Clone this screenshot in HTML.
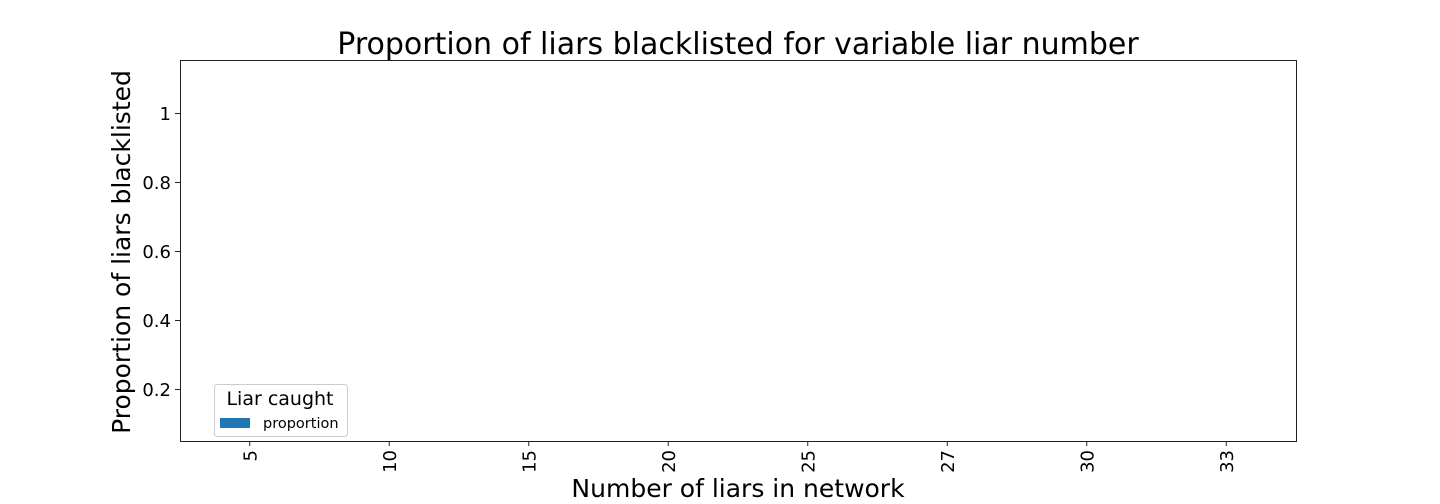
<!DOCTYPE html>
<html><head><meta charset="utf-8"><style>
html,body{margin:0;padding:0;background:#fff;}
svg{display:block;font-family:"DejaVu Sans","Liberation Sans",sans-serif;}
</style></head><body>
<svg id="chart" width="1440" height="504">
<text x="738" y="54" font-size="30" text-anchor="middle" fill="#000">Proportion of liars blacklisted for variable liar number</text>
<defs><clipPath id="pc"><rect x="180" y="60" width="1116" height="381"/></clipPath></defs>
<g id="bars" clip-path="url(#pc)"></g>
<rect x="180.5" y="60.5" width="1116" height="381" fill="none" stroke="#222" stroke-width="1"/>
<g id="yt"></g><g id="xt"></g>
<text transform="translate(130,252) rotate(-90)" font-size="25" text-anchor="middle">Proportion of liars blacklisted</text>
<text x="738" y="497" font-size="25" text-anchor="middle">Number of liars in network</text>
<g>
<rect x="214.5" y="384.5" width="133" height="52" rx="3" fill="#fff" stroke="#ccc"/>
<text x="280" y="405" font-size="19" text-anchor="middle">Liar caught</text>
<rect x="220" y="418" width="30" height="10" fill="#1f77b4"/>
<text x="263" y="428" font-size="14.5">proportion</text>
</g>
</svg>
<script>
const categories=["5","10","15","20","25","27","30","33"];
const values=[0,0,0,0,0,0,0,0];
const yTicks=[0.2,0.4,0.6,0.8,1];
const yTickLabels=["0.2","0.4","0.6","0.8","1"];
const NS="http://www.w3.org/2000/svg";
const yMin=0.0507,yMax=1.1551,plotTop=60,plotBot=441,plotLeft=180,plotRight=1296;
function yScale(v){return plotBot-(v-yMin)/(yMax-yMin)*(plotBot-plotTop);}
const step=(plotRight-plotLeft)/categories.length;
function xScale(i){return plotLeft+step*(i+0.5);}
const bars=document.getElementById('bars'),yt=document.getElementById('yt'),xt=document.getElementById('xt');
values.forEach((v,i)=>{
 const r=document.createElementNS(NS,'rect');
 const y0=yScale(0),y1=yScale(v);
 r.setAttribute('x',xScale(i)-step*0.25);r.setAttribute('width',step*0.5);
 r.setAttribute('y',Math.min(y0,y1));r.setAttribute('height',Math.abs(y0-y1));
 r.setAttribute('fill','#1f77b4');
 
 
 bars.appendChild(r);
});
yTicks.forEach((t,i)=>{
 const yy=yScale(t);
 const l=document.createElementNS(NS,'line');
 l.setAttribute('x1',175);l.setAttribute('x2',180);l.setAttribute('y1',yy);l.setAttribute('y2',yy);l.setAttribute('stroke','#222');
 
 
 yt.appendChild(l);
 const tx=document.createElementNS(NS,'text');
 tx.setAttribute('x',171);tx.setAttribute('y',yy+6.5);tx.setAttribute('font-size','18');tx.setAttribute('text-anchor','end');
 tx.textContent=yTickLabels[i];
 
 
 yt.appendChild(tx);
});
categories.forEach((c,i)=>{
 const xx=xScale(i);
 const l=document.createElementNS(NS,'line');
 l.setAttribute('x1',xx);l.setAttribute('x2',xx);l.setAttribute('y1',441);l.setAttribute('y2',446);l.setAttribute('stroke','#222');
 
 
 xt.appendChild(l);
 const tx=document.createElementNS(NS,'text');
 tx.setAttribute('transform','translate('+(xx+6.5)+',450) rotate(-90)');
 tx.setAttribute('font-size','18');tx.setAttribute('text-anchor','end');
 tx.textContent=c;
 
 
 xt.appendChild(tx);
});
</script>
</body></html>
